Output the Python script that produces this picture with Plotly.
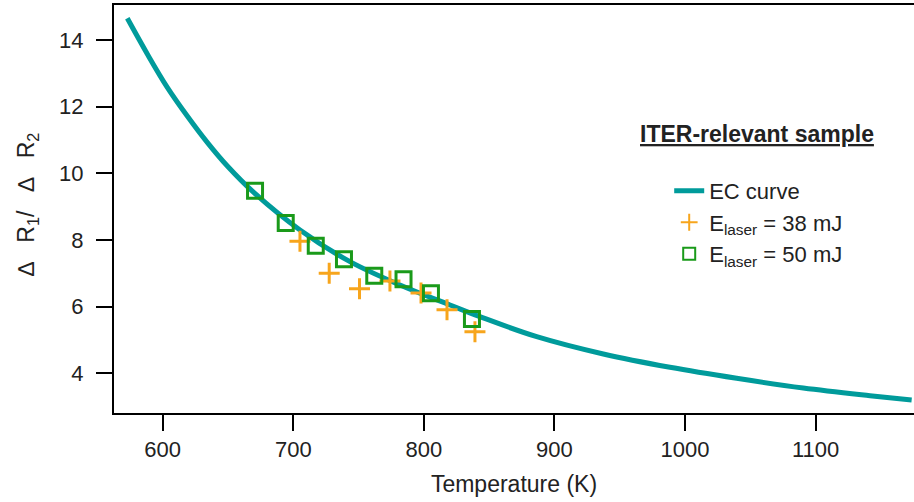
import plotly.graph_objects as go

# EC curve
curve_T = [572.9, 588.2, 603.5, 618.8, 634.1, 649.5, 669.9, 705.1, 743.4, 781.7,
           820.0, 842.9, 886.4, 937.4, 988.4, 1039.5, 1090.5, 1141.6, 1173.5]
curve_R = [14.65, 13.58, 12.58, 11.72, 10.93, 10.22, 9.42, 8.30, 7.35, 6.65,
           6.05, 5.70, 5.10, 4.58, 4.18, 3.85, 3.56, 3.33, 3.20]

# E_laser = 38 mJ
t38 = [705.1, 727.5, 750.7, 774.0, 797.8, 817.7, 839.1]
r38 = [7.96, 7.00, 6.54, 6.77, 6.41, 5.91, 5.25]

# E_laser = 50 mJ
t50 = [670.7, 694.2, 717.2, 738.8, 762.0, 784.4, 805.4, 836.8]
r50 = [9.48, 8.51, 7.83, 7.42, 6.93, 6.82, 6.40, 5.63]

x_ticks = [600, 700, 800, 900, 1000, 1100]
y_ticks = [4, 6, 8, 10, 12, 14]

teal = "#009b9b"
orange = "#f7a51c"
green = "#1a9a1a"
ink = "#222222"
font = "Liberation Sans, Arial, sans-serif"

fig = go.Figure()
fig.add_trace(go.Scatter(x=curve_T, y=curve_R, mode="lines", name="EC curve",
                         line=dict(color=teal, width=5, shape="spline", smoothing=1.0)))
fig.add_trace(go.Scatter(x=t38, y=r38, mode="markers",
                         name="E<sub>laser</sub> = 38 mJ",
                         marker=dict(symbol="cross-thin", size=15,
                                     line=dict(color=orange, width=3))))
fig.add_trace(go.Scatter(x=t50, y=r50, mode="markers",
                         name="E<sub>laser</sub> = 50 mJ",
                         marker=dict(symbol="square-open", size=15, color=green,
                                     line=dict(color=green, width=3))))

axis_style = dict(showline=True, linecolor="black", linewidth=2, ticks="outside",
                  ticklen=16, tickwidth=2, tickcolor="black", showgrid=False,
                  zeroline=False, tickfont=dict(size=22, color=ink, family=font))

fig.update_xaxes(range=[562.7, 1175.3], tickvals=x_ticks, mirror=True,
                 title=dict(text="Temperature (K)", font=dict(size=23, color=ink),
                            standoff=14),
                 **axis_style)
fig.update_yaxes(range=[2.81, 15.05], tickvals=y_ticks, ticklabelstandoff=8,
                 **axis_style)

# y-axis title, placed like the reference
nb = "&nbsp;" * 3
fig.add_annotation(text=f"\u2206{nb}R<sub>1</sub>/{nb}\u2206{nb}R<sub>2</sub>",
                   x=-0.1075, y=0.51, xref="paper", yref="paper", textangle=-90,
                   showarrow=False, xanchor="center", yanchor="middle",
                   font=dict(size=23, color=ink, family=font))

fig.add_annotation(text="<b><u>ITER-relevant sample</u></b>", x=0.804, y=0.684,
                   xref="paper", yref="paper", showarrow=False,
                   xanchor="center", yanchor="middle",
                   font=dict(size=23, color=ink, family=font))

fig.update_layout(
    width=914, height=502,
    margin=dict(l=114, r=0, t=5, b=89, autoexpand=False),
    plot_bgcolor="white", paper_bgcolor="white",
    font=dict(family=font, color=ink),
    legend=dict(x=0.694, y=0.596, xanchor="left", yanchor="top",
                bgcolor="rgba(0,0,0,0)", font=dict(size=22, color=ink),
                itemsizing="constant", tracegroupgap=0),
)

fig.write_html("out.html", config={"displayModeBar": False},
               post_script="document.body.style.margin='0';")
